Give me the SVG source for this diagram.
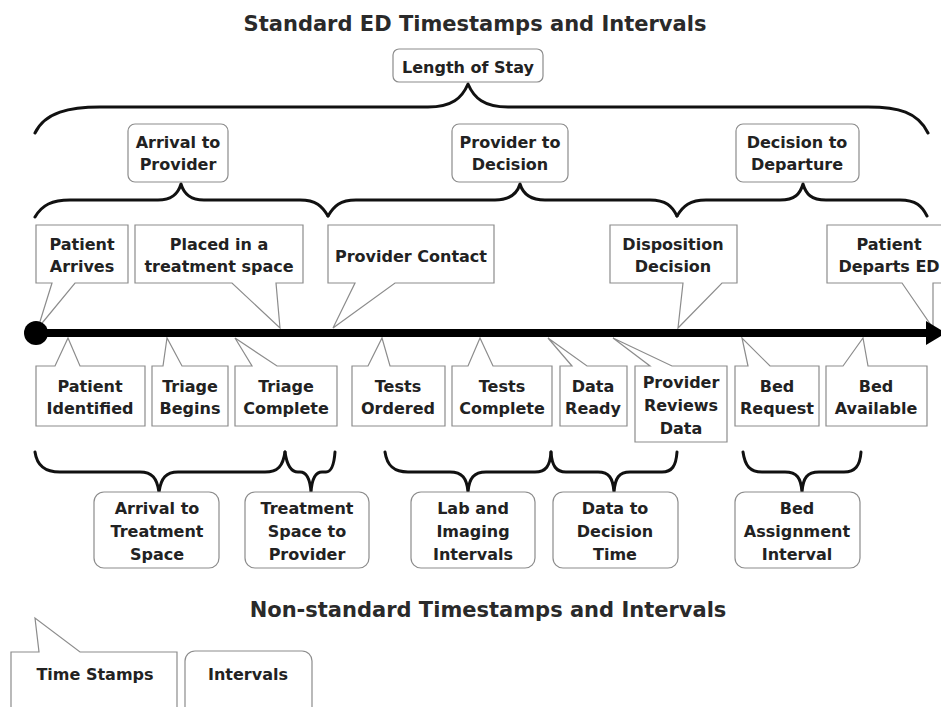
<svg xmlns="http://www.w3.org/2000/svg" width="941" height="707" viewBox="0 0 941 707">
<style>
.bg{fill:#fff}
.box{fill:#fff;stroke:#8c8c8c;stroke-width:1.2}
.rbox{fill:#fff;stroke:#8c8c8c;stroke-width:1.2}
.t{font-family:"DejaVu Sans","Liberation Sans",sans-serif;font-weight:bold;font-size:16px;fill:#222;text-anchor:middle}
.title{font-size:21px;fill:#2a2a2a}
.brace{fill:none;stroke:#111;stroke-width:3;stroke-linejoin:round;stroke-linecap:round}
.axis{stroke:#000;stroke-width:8}
</style>
<rect class="bg" x="0" y="0" width="941" height="707"/>

<text class="t title" x="475" y="31">Standard ED Timestamps and Intervals</text>
<text class="t title" x="488" y="617">Non-standard Timestamps and Intervals</text>

<g id="connectors">
  <path class="brace" d="M35,133 C45,112 70,107 100,107 H428 C452,107 462,98 468,84 C474,98 484,107 508,107 H868 C898,107 918,112 928,133"/>
  <path class="brace" d="M35,217 C42,205 52,200 70,200 H158 C172,200 178,194 181,184 C184,194 190,200 204,200 H300 C316,200 322,206 328,216"/>
  <path class="brace" d="M328,216 C334,206 340,200 356,200 H495 C510,200 517,194 520,184 C523,194 530,200 545,200 H650 C666,200 672,206 677,216"/>
  <path class="brace" d="M677,216 C683,206 690,200 706,200 H780 C795,200 800,194 803,184 C806,194 811,200 826,200 H900 C916,200 922,206 927,216"/>
  <path class="brace" d="M35,452 C37,466 45,472 60,472 H140 C152,472 157,478 159,492 C161,478 166,472 178,472 H265 C278,472 283,466 285,452"/>
  <path class="brace" d="M285,452 C287,466 291,472 298,472 H300 C306,472 310,478 311,492 C312,478 316,472 322,472 H326 C331,472 334,466 335,452"/>
  <path class="brace" d="M385,452 C387,466 394,472 408,472 H450 C462,472 467,478 468,492 C469,478 474,472 486,472 H535 C546,472 550,466 551,452"/>
  <path class="brace" d="M551,452 C552,466 556,472 566,472 H598 C609,472 613,478 614,492 C615,478 619,472 630,472 H662 C672,472 676,466 677,452"/>
  <path class="brace" d="M743,452 C745,466 750,472 762,472 H785 C797,472 801,478 802,492 C803,478 807,472 819,472 H844 C855,472 860,466 861,452"/>
</g>

<!-- interval boxes -->
<g id="length-of-stay"><rect class="rbox" x="393" y="49" width="150" height="33" rx="6"/><text class="t" x="468" y="73">Length of Stay</text></g>
<g id="arrival-to-provider"><rect class="rbox" x="128" y="124" width="100" height="58" rx="7"/><text class="t" x="178" y="148">Arrival to</text><text class="t" x="178" y="170">Provider</text></g>
<g id="provider-to-decision"><rect class="rbox" x="452" y="124" width="116" height="58" rx="7"/><text class="t" x="510" y="148">Provider to</text><text class="t" x="510" y="170">Decision</text></g>
<g id="decision-to-departure"><rect class="rbox" x="736" y="124" width="123" height="58" rx="7"/><text class="t" x="797" y="148">Decision to</text><text class="t" x="797" y="170">Departure</text></g>

<!-- top callouts -->
<g id="patient-arrives"><path class="box" d="M36,225 H128 V283 H75 L38,328 L52,283 H36 Z"/><text class="t" x="82" y="250">Patient</text><text class="t" x="82" y="272">Arrives</text></g>
<g id="placed-in-treatment-space"><path class="box" d="M135,225 H303 V283 H276 L280,328 L232,283 H135 Z"/><text class="t" x="219" y="250">Placed in a</text><text class="t" x="219" y="272">treatment space</text></g>
<g id="provider-contact"><path class="box" d="M328,225 H494 V283 H395 L333,328 L355,283 H328 Z"/><text class="t" x="411" y="262">Provider Contact</text></g>
<g id="disposition-decision"><path class="box" d="M610,225 H737 V283 H722 L678,328 L683,283 H610 Z"/><text class="t" x="673" y="250">Disposition</text><text class="t" x="673" y="272">Decision</text></g>
<g id="patient-departs-ed"><path class="box" d="M827,225 H960 V283 H933 L933,328 L902,283 H827 Z"/><text class="t" x="889" y="250">Patient</text><text class="t" x="889" y="272">Departs ED</text></g>

<!-- bottom callouts -->
<g id="patient-identified"><path class="box" d="M36,366 H55 L68,338 L80,366 H145 V426 H36 Z"/><text class="t" x="90" y="392">Patient</text><text class="t" x="90" y="414">Identified</text></g>
<g id="triage-begins"><path class="box" d="M152,366 H163 L167,338 L182,366 H228 V426 H152 Z"/><text class="t" x="190" y="392">Triage</text><text class="t" x="190" y="414">Begins</text></g>
<g id="triage-complete"><path class="box" d="M235,366 H252 L235,338 L277,366 H337 V426 H235 Z"/><text class="t" x="286" y="392">Triage</text><text class="t" x="286" y="414">Complete</text></g>
<g id="tests-ordered"><path class="box" d="M352,366 H368 L382,338 L390,366 H445 V426 H352 Z"/><text class="t" x="398" y="392">Tests</text><text class="t" x="398" y="414">Ordered</text></g>
<g id="tests-complete"><path class="box" d="M452,366 H468 L480,338 L493,366 H552 V426 H452 Z"/><text class="t" x="502" y="392">Tests</text><text class="t" x="502" y="414">Complete</text></g>
<g id="data-ready"><path class="box" d="M560,366 H572 L548,338 L587,366 H627 V426 H560 Z"/><text class="t" x="593" y="392">Data</text><text class="t" x="593" y="414">Ready</text></g>
<g id="provider-reviews-data"><path class="box" d="M635,366 H650 L613,338 L672,366 H727 V442 H635 Z"/><text class="t" x="681" y="388">Provider</text><text class="t" x="681" y="411">Reviews</text><text class="t" x="681" y="434">Data</text></g>
<g id="bed-request"><path class="box" d="M735,366 H748 L742,338 L770,366 H819 V426 H735 Z"/><text class="t" x="777" y="392">Bed</text><text class="t" x="777" y="414">Request</text></g>
<g id="bed-available"><path class="box" d="M826,366 H843 L863,338 L868,366 H927 V426 H826 Z"/><text class="t" x="876" y="392">Bed</text><text class="t" x="876" y="414">Available</text></g>

<!-- timeline -->
<g id="timeline">
  <line class="axis" x1="36" y1="333" x2="930" y2="333"/>
  <circle cx="36" cy="333" r="12" fill="#000"/>
  <polygon points="926,321 946,333 926,345" fill="#000"/>
</g>

<!-- bottom interval boxes -->
<g id="arrival-to-treatment-space"><rect class="rbox" x="94" y="492" width="125" height="76" rx="10"/><text class="t" x="157" y="514">Arrival to</text><text class="t" x="157" y="537">Treatment</text><text class="t" x="157" y="560">Space</text></g>
<g id="treatment-space-to-provider"><rect class="rbox" x="245" y="492" width="124" height="76" rx="10"/><text class="t" x="307" y="514">Treatment</text><text class="t" x="307" y="537">Space to</text><text class="t" x="307" y="560">Provider</text></g>
<g id="lab-imaging-intervals"><rect class="rbox" x="411" y="492" width="124" height="76" rx="10"/><text class="t" x="473" y="514">Lab and</text><text class="t" x="473" y="537">Imaging</text><text class="t" x="473" y="560">Intervals</text></g>
<g id="data-to-decision-time"><rect class="rbox" x="553" y="492" width="125" height="76" rx="10"/><text class="t" x="615" y="514">Data to</text><text class="t" x="615" y="537">Decision</text><text class="t" x="615" y="560">Time</text></g>
<g id="bed-assignment-interval"><rect class="rbox" x="735" y="492" width="125" height="76" rx="10"/><text class="t" x="797" y="514">Bed</text><text class="t" x="797" y="537">Assignment</text><text class="t" x="797" y="560">Interval</text></g>

<!-- legend -->
<g id="legend-time-stamps"><path class="box" d="M11,652 H39 L35,618 L80,652 H177 V720 H11 Z"/><text class="t" x="95" y="680">Time Stamps</text></g>
<g id="legend-intervals"><rect class="rbox" x="185" y="651" width="127" height="80" rx="10"/><text class="t" x="248" y="680">Intervals</text></g>
</svg>
